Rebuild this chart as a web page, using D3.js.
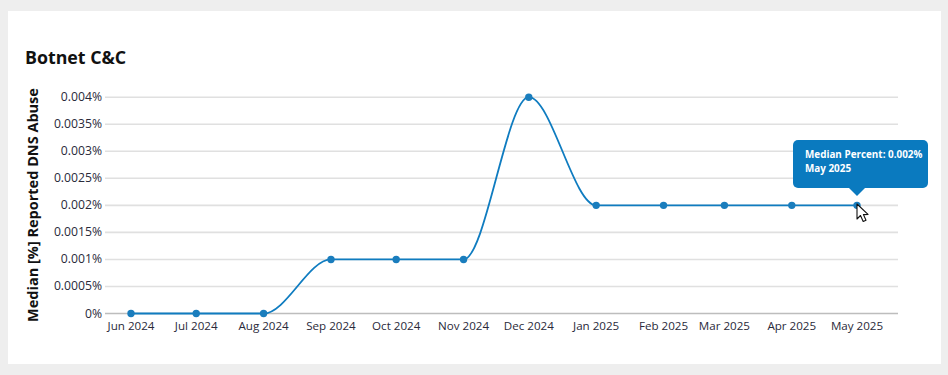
<!DOCTYPE html>
<html>
<head>
<meta charset="utf-8">
<script src="https://cdn.jsdelivr.net/npm/d3@7"></script>
<style>
    html, body { margin: 0; padding: 0; background: #eeeeee; overflow: hidden; }
    svg { display: block; font-family: "Open Sans", "Noto Sans", sans-serif; }
</style>
</head>
<body>
<div id="chart"></div>
<script>
// Data
const months = ["2024-06-01", "2024-07-01", "2024-08-01", "2024-09-01", "2024-10-01", "2024-11-01",
    "2024-12-01", "2025-01-01", "2025-02-01", "2025-03-01", "2025-04-01", "2025-05-01"];
const medianPercent = [0, 0, 0, 0.001, 0.001, 0.001, 0.004, 0.002, 0.002, 0.002, 0.002, 0.002];
const yTicks = [0, 0.0005, 0.001, 0.0015, 0.002, 0.0025, 0.003, 0.0035, 0.004];
const title = "Botnet C&C";
const yTitle = "Median [%] Reported DNS Abuse";
const tooltipLines = ["Median Percent: 0.002%", "May 2025"];

(function() {
    const width = 948;
    const height = 375;
    const plot = { left: 105, right: 898 };
    const blue = "#0f7cc0";

    const dates = months.map(d => d3.utcParse("%Y-%m-%d")(d));

    const svg = d3.select("#chart").append("svg")
        .attr("width", width)
        .attr("height", height);

    // White card
    svg.append("rect")
        .attr("x", 8).attr("y", 11)
        .attr("width", 933).attr("height", 353)
        .attr("fill", "#fff");

    svg.append("text")
        .attr("x", 25).attr("y", 64)
        .attr("font-size", 17.8)
        .attr("font-weight", 700)
        .attr("fill", "#111")
        .text(title);

    const x = d3.scaleUtc()
        .domain(d3.extent(dates))
        .range([131, 857]);

    const y = d3.scaleLinear()
        .domain([0, 0.004])
        .range([313.5, 97.2]);

    // Horizontal grid
    svg.append("g")
        .selectAll("line")
        .data(yTicks)
        .join("line")
        .attr("x1", plot.left)
        .attr("x2", plot.right)
        .attr("y1", d => y(d))
        .attr("y2", d => y(d))
        .attr("stroke", d => d === 0 ? "#bdbdbd" : "#e0e0e0")
        .attr("stroke-width", 1.6);

    // Y tick labels
    svg.append("g")
        .selectAll("text")
        .data(yTicks)
        .join("text")
        .attr("x", 102)
        .attr("y", d => y(d) + 4)
        .attr("text-anchor", "end")
        .attr("font-size", 12.2)
        .attr("fill", "#2a2a3a")
        .text(d => d === 0 ? "0%" : d3.format(".4~f")(d) + "%");

    // X tick labels
    svg.append("g")
        .selectAll("text")
        .data(dates)
        .join("text")
        .attr("x", d => x(d))
        .attr("y", 330)
        .attr("text-anchor", "middle")
        .attr("font-size", 11.6)
        .attr("fill", "#2a2a3a")
        .text(d => d3.utcFormat("%b %Y")(d));

    // Y axis title
    svg.append("text")
        .attr("transform", "translate(38,205) rotate(-90)")
        .attr("text-anchor", "middle")
        .attr("font-size", 14.5)
        .attr("font-weight", 700)
        .attr("fill", "#111")
        .text(yTitle);

    // Line
    const line = d3.line()
        .x((d, i) => x(dates[i]))
        .y(d => y(d))
        .curve(d3.curveMonotoneX);

    svg.append("path")
        .datum(medianPercent)
        .attr("fill", "none")
        .attr("stroke", blue)
        .attr("stroke-width", 1.8)
        .attr("d", line);

    svg.append("g")
        .selectAll("circle")
        .data(medianPercent)
        .join("circle")
        .attr("cx", (d, i) => x(dates[i]))
        .attr("cy", d => y(d))
        .attr("r", 3.7)
        .attr("fill", "#1a7dbd");

    // Tooltip on the last point
    const tipX = x(dates[dates.length - 1]);
    const tip = svg.append("g");
    tip.append("rect")
        .attr("x", 793).attr("y", 140)
        .attr("width", 135).attr("height", 48)
        .attr("rx", 5)
        .attr("fill", "#0a7abf");
    tip.append("path")
        .attr("d", `M${tipX - 9},187 L${tipX},196 L${tipX + 9},187 Z`)
        .attr("fill", "#0a7abf");
    tip.selectAll("text")
        .data(tooltipLines)
        .join("text")
        .attr("x", 805)
        .attr("y", (d, i) => 158 + i * 14)
        .attr("font-size", 9.9)
        .attr("font-weight", 700)
        .attr("fill", "#fff")
        .text(d => d);

    // Mouse pointer
    svg.append("path")
        .attr("transform", `translate(${tipX},204)`)
        .attr("d", "M0,0 L0,15 L3.5,11.5 L6.2,17.5 L9,16.2 L6.4,10.6 L11,10.4 Z")
        .attr("fill", "#fff")
        .attr("stroke", "#111")
        .attr("stroke-width", 1.1)
        .attr("stroke-linejoin", "round");
})();
</script>
</body>
</html>
